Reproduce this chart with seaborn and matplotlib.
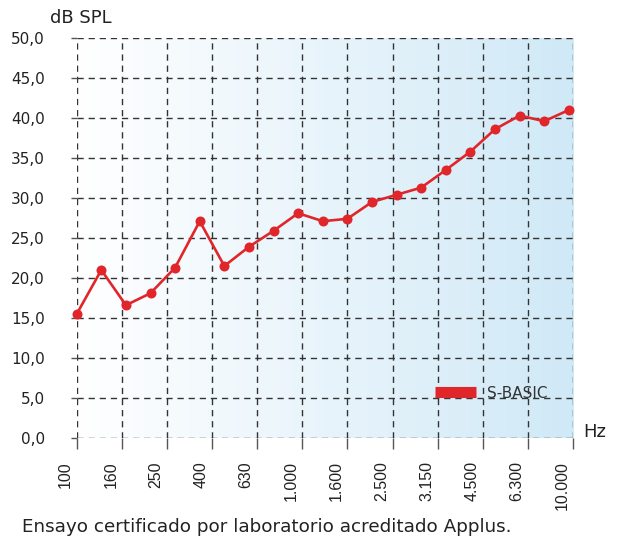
import numpy as np
import pandas as pd
import matplotlib
matplotlib.use("Agg")
import matplotlib.pyplot as plt
import matplotlib.transforms as mtransforms
from matplotlib.colors import LinearSegmentedColormap
from matplotlib.lines import Line2D
import seaborn as sns

# ---- data ----
frequencies = [100, 125, 160, 200, 250, 315, 400, 500, 630, 800, 1000,
               1250, 1600, 2000, 2500, 3150, 4000, 5000, 6300, 8000, 10000]
spl_values = [15.5, 21.0, 16.6, 18.1, 21.3, 27.1, 21.5, 23.9, 25.9, 28.1, 27.1,
              27.4, 29.5, 30.4, 31.3, 33.5, 35.8, 38.6, 40.3, 39.6, 41.0]
tick_labels = ["100", "160", "250", "400", "630", "1.000", "1.600",
               "2.500", "3.150", "4.500", "6.300", "10.000"]
y_ticks = [0, 5, 10, 15, 20, 25, 30, 35, 40, 45, 50]
series_name = "S-BASIC"

df = pd.DataFrame({"idx": np.arange(len(frequencies)), "spl": spl_values,
                   "freq": frequencies})

sns.set_theme(style="white")
plt.rcParams["font.family"] = ["DejaVu Sans"]

fig = plt.figure(figsize=(6.22, 5.37), dpi=100)
ax = fig.add_axes([76.7 / 622, 1 - 438 / 537, (573 - 76.7) / 622, 400 / 537])

XMAX = 20.17
red = "#e0262b"

# gradient background
cmap = LinearSegmentedColormap.from_list("bg", ["#ffffff", "#e8f4fb", "#d0e9f7"])
ax.imshow(np.linspace(0, 1, 256)[None, :], cmap=cmap, aspect="auto",
          extent=[0, XMAX, 0, 50], zorder=0, interpolation="bilinear")

sns.lineplot(data=df, x="idx", y="spl", ax=ax, color=red, lw=1.9,
             marker="o", markersize=7.2, markeredgecolor=red,
             markeredgewidth=0, zorder=5, clip_on=False)

ax.set_xlim(0, XMAX)
ax.set_ylim(0, 50)
xt = np.linspace(0, XMAX, len(tick_labels))
ax.set_xticks(xt)
ax.set_xticklabels(tick_labels, rotation=90, fontfamily="Liberation Sans",
                   fontsize=11.5, color="#222")
ax.set_yticks(y_ticks)
ax.set_yticklabels([f"{v:.1f}".replace(".", ",") for v in y_ticks],
                   fontsize=11, color="#222")

ax.grid(True, linestyle=(0, (4.5, 3.5)), color="#333", lw=1.0)
ax.set_axisbelow(True)
for s in ax.spines.values():
    s.set_visible(False)

ax.tick_params(axis="x", bottom=True, length=8, width=1, color="#555", pad=8.6)
ax.tick_params(axis="y", left=True, length=4, width=1, color="#555", pad=19)

offset = mtransforms.ScaledTranslation(-11 / 100, 0, fig.dpi_scale_trans)
for lab in ax.get_xticklabels():
    lab.set_transform(lab.get_transform() + offset)

ax.set_xlabel("")
ax.set_ylabel("")

handle = Line2D([], [], color=red, lw=8, solid_capstyle="butt")
leg = ax.legend([handle], [series_name], loc="center left",
                bbox_to_anchor=((435 - 76.7) / 496.3, (438 - 393) / 400),
                frameon=False, handlelength=2.66, handletextpad=0.75,
                borderpad=0, borderaxespad=0, fontsize=11)
for t in leg.get_texts():
    t.set_color("#333")

fig.text(50 / 622, 1 - 18 / 537, "dB SPL", fontsize=13, color="#222",
         ha="left", va="center")
fig.text(583 / 622, 1 - 432 / 537, "Hz", fontsize=13, color="#222",
         ha="left", va="center")
fig.text(22 / 622, 1 - 527 / 537,
         "Ensayo certificado por laboratorio acreditado Applus.",
         fontsize=13.2, color="#222", ha="left", va="center")

fig.savefig("out.png", dpi=100)
